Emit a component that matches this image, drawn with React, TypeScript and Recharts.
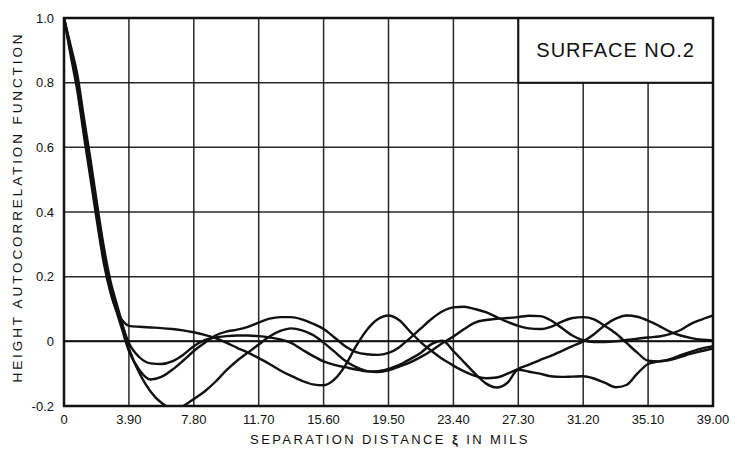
import {
  LineChart, Line, XAxis, YAxis, CartesianGrid, ReferenceArea, ReferenceLine,
} from "recharts";

// separation distance (mils)
const xs = [
  0, 0.4, 0.8, 1.2, 1.6, 2.0, 2.4, 2.8, 3.2, 3.5, 3.9,
  4.55, 5.2, 5.85, 6.5, 7.15, 7.8, 8.45, 9.1, 9.75, 10.4, 11.05, 11.7,
  12.35, 13.0, 13.65, 14.3, 14.95, 15.6, 16.25, 16.9, 17.55, 18.2, 18.85, 19.5,
  20.15, 20.8, 21.45, 22.1, 22.75, 23.4, 24.05, 24.7, 25.35, 26.0, 26.65, 27.3,
  27.95, 28.6, 29.25, 29.9, 30.55, 31.2, 31.85, 32.5, 33.15, 33.8, 34.45, 35.1,
  35.75, 36.4, 37.05, 37.7, 38.35, 39.0,
];

// four autocorrelation traces
const traceA = [
  1.0, 0.885, 0.775, 0.635, 0.5, 0.365, 0.24, 0.15, 0.09, 0.065, 0.048,
  0.045, 0.043, 0.041, 0.038, 0.034, 0.028, 0.02, 0.01, -0.004, -0.02, -0.035, -0.052,
  -0.07, -0.09, -0.107, -0.122, -0.133, -0.136, -0.118, -0.075, -0.015, 0.035, 0.068, 0.08,
  0.065, 0.03, -0.003, -0.03, -0.055, -0.075, -0.093, -0.107, -0.114, -0.112, -0.1, -0.085,
  -0.072, -0.058, -0.045, -0.03, -0.015, 0.0, 0.022, 0.05, 0.07, 0.08, 0.076, 0.064,
  0.048, 0.03, 0.018, 0.01, 0.005, 0.003,
];
const traceB = [
  1.0, 0.895, 0.79, 0.65, 0.52, 0.38, 0.25, 0.155, 0.085, 0.035, -0.03,
  -0.09, -0.118, -0.11, -0.088, -0.06, -0.03, -0.005, 0.018, 0.03, 0.036, 0.045, 0.058,
  0.07, 0.075, 0.075, 0.068, 0.055, 0.038, 0.012, -0.015, -0.033, -0.04, -0.042, -0.036,
  -0.018, 0.01, 0.04, 0.07, 0.093, 0.105, 0.107, 0.1, 0.09, 0.075, 0.06, 0.048,
  0.04, 0.038, 0.045, 0.06, 0.072, 0.075, 0.068, 0.048, 0.025, -0.005, -0.035, -0.06,
  -0.062, -0.055, -0.043, -0.032, -0.022, -0.015,
];
const traceC = [
  1.0, 0.905, 0.81, 0.67, 0.54, 0.4, 0.27, 0.17, 0.1, 0.05, -0.005,
  -0.05, -0.068, -0.07, -0.062, -0.042, -0.015, 0.004, 0.012, 0.016, 0.018, 0.018, 0.016,
  0.012, 0.006, -0.005, -0.025, -0.045, -0.062, -0.073, -0.08, -0.087, -0.093, -0.092, -0.085,
  -0.073, -0.055, -0.035, -0.008, 0.002, -0.03, -0.065, -0.1, -0.13, -0.143, -0.128, -0.088,
  -0.094, -0.1, -0.108, -0.11, -0.109, -0.108, -0.115, -0.128, -0.142, -0.135, -0.1, -0.07,
  -0.062, -0.058, -0.048, -0.038, -0.03, -0.022,
];
const traceD = [
  1.0, 0.915, 0.825, 0.69, 0.56, 0.42, 0.29, 0.185, 0.11, 0.055, -0.02,
  -0.1, -0.155, -0.19, -0.207, -0.2, -0.178, -0.155, -0.125, -0.09, -0.06, -0.035, -0.01,
  0.015, 0.032, 0.04, 0.034, 0.02, -0.004, -0.032, -0.06, -0.08, -0.092, -0.095, -0.09,
  -0.078, -0.065, -0.048, -0.028, -0.005, 0.015, 0.038, 0.058, 0.066, 0.07, 0.072, 0.075,
  0.079, 0.078, 0.065, 0.042, 0.018, 0.003, -0.002, -0.002, 0.0, 0.004, 0.008, 0.012,
  0.015, 0.022, 0.035, 0.055, 0.068, 0.08,
];

const xTicks = [0, 3.9, 7.8, 11.7, 15.6, 19.5, 23.4, 27.3, 31.2, 35.1, 39.0];
const yTicks = [-0.2, 0, 0.2, 0.4, 0.6, 0.8, 1.0];

const rows = xs.map((x, i) => ({
  x, a: traceA[i], b: traceB[i], c: traceC[i], d: traceD[i],
}));

const INK = "#111";
const FONT = "'Liberation Sans', Arial, sans-serif";

export default function App() {
  return (
    <div style={{ position: "absolute", left: 0, top: 0, background: "#fff" }}>
      <LineChart
        width={741}
        height={450}
        data={rows}
        margin={{ top: 18, right: 28, bottom: 0, left: 8 }}
      >
        <CartesianGrid stroke={INK} strokeWidth={1.5} strokeOpacity={0.9} />
        <XAxis
          dataKey="x"
          type="number"
          domain={[0, 39]}
          ticks={xTicks}
          height={44}
          tickLine={false}
          axisLine={false}
          tickMargin={3}
          tick={{ fill: INK, fontSize: 13, fontFamily: FONT }}
          tickFormatter={(v: number) => (v === 0 ? "0" : v.toFixed(2))}
          label={{
            content: () => (
              <text x={390} y={444} textAnchor="middle" fill={INK}
                fontSize={13} fontFamily={FONT} letterSpacing={2.4}>
                SEPARATION DISTANCE <tspan fontWeight="bold">ξ</tspan> IN MILS
              </text>
            ),
          }}
        />
        <YAxis
          type="number"
          domain={[-0.2, 1]}
          ticks={yTicks}
          width={56}
          allowDataOverflow
          tickLine={false}
          axisLine={false}
          tickMargin={4}
          tick={{ fill: INK, fontSize: 13, fontFamily: FONT }}
          tickFormatter={(v: number) => (v === 0 ? "0" : v === 1 ? "1.0" : v.toFixed(1))}
          label={{
            content: () => (
              <text x={22} y={207} transform="rotate(-90 22 207)" textAnchor="middle"
                fill={INK} fontSize={13.5} fontFamily={FONT} letterSpacing={2.9}>
                HEIGHT AUTOCORRELATION FUNCTION
              </text>
            ),
          }}
        />
        <ReferenceLine y={0} stroke={INK} strokeWidth={2} />
        <ReferenceArea
          x1={27.3} x2={39} y1={0.8} y2={1.0}
          fill="#fff" fillOpacity={1} stroke={INK} strokeWidth={2}
          label={{ value: "SURFACE NO.2", position: "center", fill: INK, fontSize: 20, fontFamily: FONT, letterSpacing: 1 } as any}
        />
        <ReferenceArea
          x1={0} x2={39} y1={-0.2} y2={1.0}
          fill="none" stroke={INK} strokeWidth={2.5}
        />
        <Line type="monotone" dataKey="a" stroke={INK} strokeWidth={2.4} dot={false} isAnimationActive={false} />
        <Line type="monotone" dataKey="b" stroke={INK} strokeWidth={2.4} dot={false} isAnimationActive={false} />
        <Line type="monotone" dataKey="c" stroke={INK} strokeWidth={2.4} dot={false} isAnimationActive={false} />
        <Line type="monotone" dataKey="d" stroke={INK} strokeWidth={2.4} dot={false} isAnimationActive={false} />
      </LineChart>
    </div>
  );
}
